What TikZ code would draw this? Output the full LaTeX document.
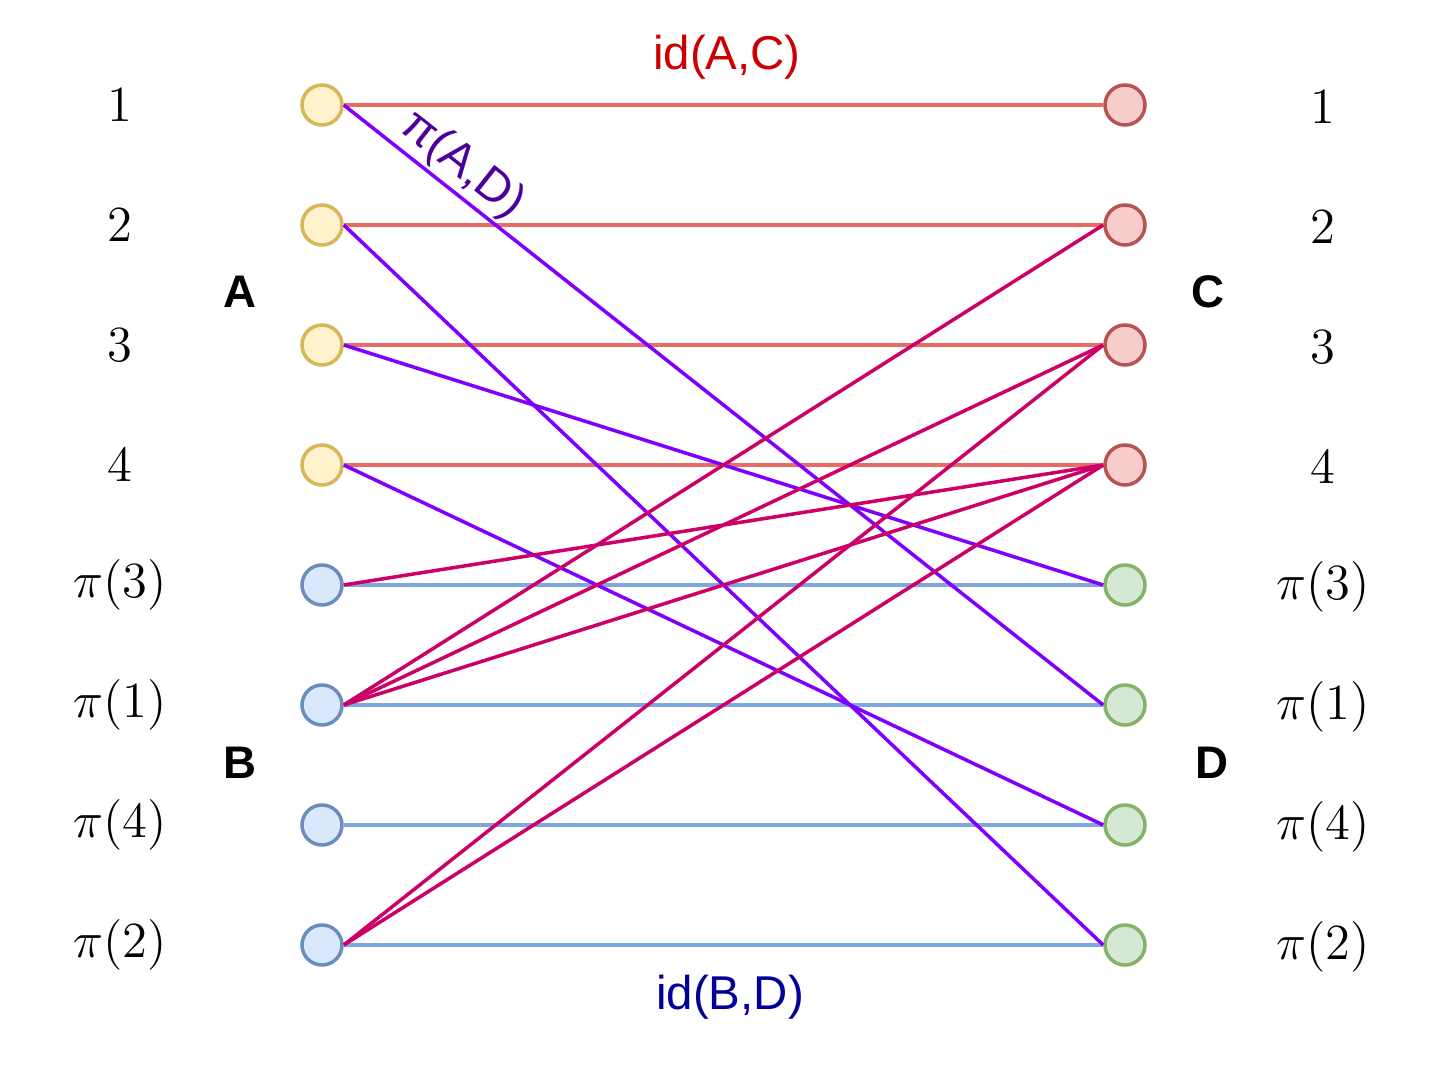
\documentclass[tikz,border=0pt]{standalone}
\usepackage{fontspec}
\setsansfont{Liberation Sans}

\definecolor{yelFill}{HTML}{FFF2CC}
\definecolor{yelLine}{HTML}{D6B656}
\definecolor{bluFill}{HTML}{DAE8FC}
\definecolor{bluLine}{HTML}{6C8EBF}
\definecolor{redFill}{HTML}{F8CECC}
\definecolor{redLine}{HTML}{B85450}
\definecolor{grnFill}{HTML}{D5E8D4}
\definecolor{grnLine}{HTML}{82B366}
\definecolor{acEdge}{HTML}{EA6B66}
\definecolor{acText}{HTML}{CC0000}
\definecolor{bdEdge}{HTML}{7EA6E0}
\definecolor{bdText}{HTML}{000099}
\definecolor{adEdge}{HTML}{7F00FF}
\definecolor{adText}{HTML}{4C0099}
\definecolor{bcEdge}{HTML}{CC0066}

\begin{document}
\begin{tikzpicture}[
    vtx/.style={circle,draw,line width=1pt,minimum size=0.4cm,inner sep=0pt},
    vA/.style={vtx,draw=yelLine,fill=yelFill},
    vB/.style={vtx,draw=bluLine,fill=bluFill},
    vC/.style={vtx,draw=redLine,fill=redFill},
    vD/.style={vtx,draw=grnLine,fill=grnFill},
    num/.style={font=\fontsize{14.5}{17}\selectfont},
    setname/.style={font=\sffamily\bfseries\fontsize{13}{15}\selectfont},
    lbl/.style={font=\sffamily\fontsize{13.5}{16}\selectfont},
    idAC/.style={line width=1pt,draw=acEdge},
    idBD/.style={line width=1pt,draw=bdEdge},
    piAD/.style={line width=1pt,draw=adEdge},
    piBC/.style={line width=1pt,draw=bcEdge}]
    \useasboundingbox (0,0) rectangle (14.48,10.64);
    %\draw[very thin,color=gray] (0,0) grid (14.48,10.64);

    % rows: left labels, left vertices, right vertices, right labels
    \foreach \i/\y/\lab/\ls/\rs in {1/9.59/1/vA/vC,2/8.39/2/vA/vC,3/7.19/3/vA/vC,4/5.99/4/vA/vC,
        5/4.79/\pi(3)/vB/vD,6/3.59/\pi(1)/vB/vD,7/2.39/\pi(4)/vB/vD,8/1.19/\pi(2)/vB/vD} {
        \node[num] (ln\i) at (1.20,\y) {$\lab$};
        \node[\ls] (l\i) at (3.22,\y) {};
        \node[\rs] (r\i) at (11.25,\y) {};
        \node[num] (rn\i) at (13.23,\y-0.02) {$\lab$};
    }

    \node[setname] (A) at (2.40,7.72) {A};
    \node[setname] (B) at (2.40,3.01) {B};
    \node[setname] (C) at (12.08,7.72) {C};
    \node[setname] (D) at (12.12,3.01) {D};

    \foreach \i in {1,...,4} \draw[idAC] (l\i.east) -- (r\i.west);
    \foreach \i in {5,...,8} \draw[idBD] (l\i.east) -- (r\i.west);
    \foreach \i/\j in {1/6,2/8,3/5,4/7} \draw[piAD] (l\i.east) -- (r\j.west);
    \foreach \i/\j in {5/4,6/2,6/3,6/4,8/3,8/4} \draw[piBC] (l\i.east) -- (r\j.west);

    \node[lbl,text=acText] (idac) at (7.27,10.07) {id(A,C)};
    \node[lbl,text=bdText] (idbd) at (7.30,0.67) {id(B,D)};
    \path (l1.east) -- (r6.west) node[lbl,text=adText,pos=0.135,sloped,above,inner sep=1pt] (piad) {π(A,D)};
\end{tikzpicture}
\end{document}
